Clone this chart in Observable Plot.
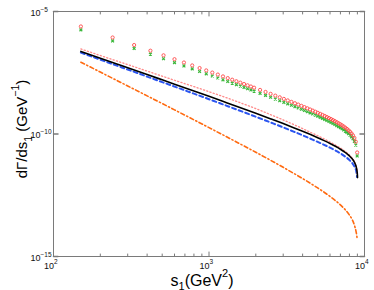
<!DOCTYPE html>
<html><head><meta charset="utf-8">
<script src="https://cdn.jsdelivr.net/npm/d3@7"></script>
<script src="https://cdn.jsdelivr.net/npm/@observablehq/plot@0.6"></script>
<style>body{margin:0;background:#fff}svg{display:block}</style>
</head><body><div id="chart"></div>
<script>
// s1 grid (GeV^2) for the curves
const lineS = [150,200,250,300,400,500,600,800,1000,1250,1500,2000,2500,3000,3500,4000,4500,5000,5500,6000,6500,7000,7500,8000,8300,8500,8700,8850,8950,9000,9020];
// log10(dGamma/ds1)
const blackLog = [-6.630,-6.906,-7.121,-7.296,-7.573,-7.789,-7.966,-8.246,-8.464,-8.685,-8.866,-9.155,-9.385,-9.576,-9.742,-9.890,-10.025,-10.151,-10.271,-10.387,-10.503,-10.621,-10.748,-10.894,-11.002,-11.092,-11.212,-11.350,-11.511,-11.667,-11.780];
const blueLog = [-6.680,-6.966,-7.189,-7.370,-7.657,-7.881,-8.064,-8.354,-8.580,-8.809,-8.996,-9.295,-9.533,-9.730,-9.902,-10.055,-10.195,-10.321,-10.441,-10.557,-10.673,-10.791,-10.918,-11.064,-11.172,-11.262,-11.382,-11.520,-11.750];
const dottedLog = [-6.530,-6.796,-7.001,-7.166,-7.433,-7.639,-7.806,-8.066,-8.274,-8.485,-8.666,-8.965,-9.215,-9.426,-9.612,-9.780,-9.935,-10.071,-10.201,-10.327,-10.453,-10.571,-10.708,-10.854,-10.972,-11.062,-11.182,-11.320,-11.481,-11.637];
const orangeLog = [-7.070,-7.472,-7.784,-8.039,-8.443,-8.756,-9.014,-9.421,-9.739,-10.060,-10.324,-10.746,-11.080,-11.360,-11.603,-11.819,-12.017,-12.202,-12.378,-12.549,-12.720,-12.895,-13.085,-13.307,-13.474,-13.617,-13.815,-14.020,-14.220];
// marker series
const markerS = [150,240,330,420,510,600,690,780,870,960,1050,1140,1230,1320,1410,1500,1590,1680,1770,1860,1950,2130,2310,2490,2670,2850,3030,3210,3390,3570,3750,3930,4110,4290,4470,4650,4830,5010,5190,5370,5550,5730,5910,6090,6270,6450,6630,6810,6990,7170,7350,7530,7710,7890,8070,8250,8430,8610,8790,8970];
const redLog = [-5.610,-6.061,-6.368,-6.600,-6.788,-6.946,-7.082,-7.201,-7.308,-7.405,-7.493,-7.574,-7.649,-7.719,-7.784,-7.846,-7.904,-7.960,-8.012,-8.062,-8.110,-8.200,-8.283,-8.361,-8.434,-8.502,-8.567,-8.629,-8.688,-8.745,-8.799,-8.851,-8.902,-8.951,-8.999,-9.045,-9.091,-9.135,-9.179,-9.222,-9.265,-9.307,-9.349,-9.390,-9.432,-9.474,-9.516,-9.559,-9.602,-9.647,-9.693,-9.742,-9.792,-9.847,-9.907,-9.975,-10.055,-10.158,-10.312,-10.754];
const greenLog = [-5.750,-6.201,-6.508,-6.740,-6.928,-7.086,-7.222,-7.341,-7.448,-7.545,-7.633,-7.714,-7.789,-7.859,-7.924,-7.986,-8.044,-8.100,-8.152,-8.202,-8.250,-8.340,-8.423,-8.501,-8.574,-8.642,-8.707,-8.769,-8.828,-8.885,-8.939,-8.991,-9.042,-9.091,-9.139,-9.185,-9.231,-9.275,-9.319,-9.362,-9.405,-9.447,-9.489,-9.530,-9.572,-9.614,-9.656,-9.699,-9.742,-9.787,-9.833,-9.882,-9.932,-9.987,-10.047,-10.115,-10.195,-10.298,-10.452,-10.894];
// axis ticks and labels
const xMajor = [100, 1000, 10000];
const xMinor = [200,300,400,500,600,700,800,900,2000,3000,4000,5000,6000,7000,8000,9000];
const xTickExp = ["2","3","4"];
const yMajor = [1e-15, 1e-10, 1e-5];
const yTickExp = ["\u221215","\u221210","\u22125"];
const xLabel = "s1(GeV2)";
const yLabel = "d\u0393/ds1 (GeV-1)";

const toRows = (S, L) => S.map((s, i) => ({s, v: Math.pow(10, L[i])}));
const black = toRows(lineS, blackLog);
const blue = toRows(lineS.slice(0, blueLog.length), blueLog);
const dotted = toRows(lineS.slice(0, dottedLog.length), dottedLog);
const orange = toRows(lineS.slice(0, orangeLog.length), orangeLog);
const red = toRows(markerS, redLog);
const green = toRows(markerS, greenLog);

const axisColor = "#7a7a7a";
const tickShape = {draw(ctx, l) { ctx.moveTo(0, 0); ctx.lineTo(0, -l); }};
const xt = (vals, yv, len, rot) => Plot.vector(vals.map(v => ({x: v, y: yv})), {x: "x", y: "y", length: len, rotate: rot, anchor: "start", shape: tickShape, stroke: axisColor, strokeWidth: 1});

const chart = Plot.plot({
  width: 374, height: 290,
  marginLeft: 53, marginRight: 10, marginTop: 11, marginBottom: 34,
  style: {fontFamily: "'Liberation Sans', Arial, Helvetica, sans-serif", background: "#fff", overflow: "visible"},
  x: {type: "log", domain: [100, 10000], axis: null},
  y: {type: "log", domain: [1e-15, 1e-5], axis: null},
  marks: [
    Plot.line(orange, {x: "s", y: "v", stroke: "#ff6a10", strokeWidth: 1.6, strokeDasharray: "4,2.5,1.2,2.5", curve: "monotone-x"}),
    Plot.line(blue, {x: "s", y: "v", stroke: "#2b55f0", strokeWidth: 2, strokeDasharray: "4,3", curve: "monotone-x"}),
    Plot.line(dotted, {x: "s", y: "v", stroke: "#ff8a8a", strokeWidth: 1.3, strokeDasharray: "1.2,2.2", curve: "monotone-x"}),
    Plot.line(black, {x: "s", y: "v", stroke: "#000", strokeWidth: 1.6, curve: "monotone-x"}),
    Plot.dot(green, {x: "s", y: "v", symbol: "times", r: 1.4, stroke: "#3cb83c", strokeWidth: 1.2}),
    Plot.dot(red, {x: "s", y: "v", symbol: "circle", r: 1.6, stroke: "#ff4a4a", strokeWidth: 0.9, fill: "none"}),
    Plot.frame({stroke: axisColor, strokeWidth: 1}),
    xt(xMajor, 1e-15, 4.5, 0), xt(xMinor, 1e-15, 2.5, 0),
    xt(xMajor, 1e-5, 4.5, 180), xt(xMinor, 1e-5, 2.5, 180),
    Plot.vector(yMajor.map(v => ({x: 100, y: v})), {x: "x", y: "y", length: 4.5, rotate: 90, anchor: "start", shape: tickShape, stroke: axisColor}),
    Plot.vector(yMajor.map(v => ({x: 10000, y: v})), {x: "x", y: "y", length: 4.5, rotate: 270, anchor: "start", shape: tickShape, stroke: axisColor}),
    Plot.text(xMajor, {x: d => d, frameAnchor: "bottom", text: () => "10", textAnchor: "end", lineAnchor: "bottom", dy: 12.5, dx: 0.5, fontSize: 9, fill: "#111"}),
    Plot.text(xMajor, {x: d => d, frameAnchor: "bottom", text: (d, i) => xTickExp[i], textAnchor: "start", lineAnchor: "bottom", dy: 7.5, dx: 0.5, fontSize: 6.5, fill: "#111"}),
    Plot.text(yMajor, {y: d => d, frameAnchor: "left", text: () => "10", textAnchor: "end", lineAnchor: "bottom", dy: 4, dx: -13, fontSize: 9, fill: "#111"}),
    Plot.text(yMajor, {y: d => d, frameAnchor: "left", text: (d, i) => yTickExp[i], textAnchor: "start", lineAnchor: "bottom", dy: 0, dx: -13, fontSize: 6.5, fill: "#111"}),
    Plot.text([{x: 1000}], {x: "x", frameAnchor: "bottom", text: () => xLabel, textAnchor: "middle", lineAnchor: "bottom", dy: 29, dx: -7, fontSize: 16, fill: "#000"}),
    Plot.text([{y: 1e-10}], {y: "y", frameAnchor: "left", text: () => yLabel, textAnchor: "middle", lineAnchor: "bottom", rotate: -90, dx: -27, dy: -5, fontSize: 15, fill: "#000"})
  ]
});

function rich(node, parts) {
  const sel = d3.select(node);
  sel.text(null);
  parts.forEach(p => {
    const t = sel.append("tspan").text(p.t);
    if (p.size) t.attr("font-size", p.size);
    if (p.dy) t.attr("dy", p.dy);
  });
}
d3.select(chart).selectAll("text").each(function() {
  const c = this.textContent;
  if (c === xLabel) rich(this, [{t: "s"}, {t: "1", size: 11, dy: 4}, {t: "(GeV", dy: -4}, {t: "2", size: 11, dy: -9}, {t: ")", dy: 9}]);
  else if (c === yLabel) rich(this, [{t: "d\u0393/ds"}, {t: "1", size: 10.5, dy: 5}, {t: " (GeV", dy: -5}, {t: "\u22121", size: 10.5, dy: -8}, {t: ")", dy: 8}]);
});
document.getElementById("chart").append(chart);
</script>
</body></html>
